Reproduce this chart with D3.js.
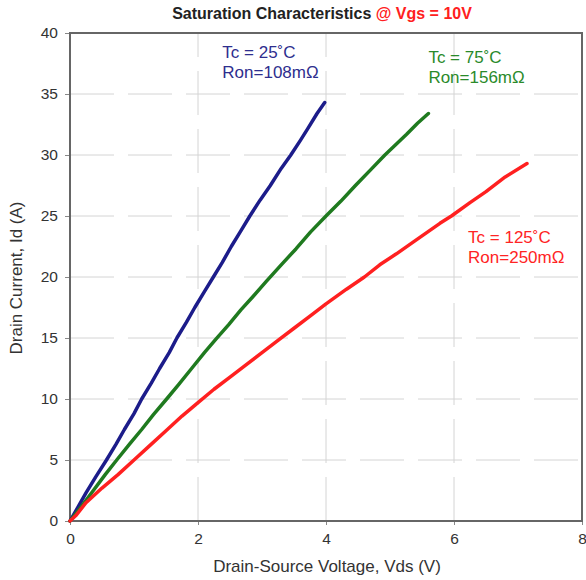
<!DOCTYPE html>
<html>
<head>
<meta charset="utf-8">
<script src="https://cdn.jsdelivr.net/npm/d3@7"></script>
<style>
	body { margin: 0; background: #fff; }
	svg { font-family: "Liberation Sans", Arial, sans-serif; }
</style>
</head>
<body>
<div id="chart"></div>
<script>
'use strict';

// values
const xTicks = [0, 2, 4, 6, 8];
const yTicks = [0, 5, 10, 15, 20, 25, 30, 35, 40];

const vds25 = [0, 0.12, 0.25, 0.4, 0.57, 0.72, 0.85, 1.0, 1.12, 1.27, 1.4, 1.55, 1.67, 1.82, 1.95, 2.1, 2.24, 2.38, 2.52, 2.66, 2.81, 2.97, 3.13, 3.3, 3.45, 3.6, 3.72, 3.86, 3.98];
const id25  = [0, 1.1, 2.3, 3.6, 5.0, 6.3, 7.5, 8.8, 10.0, 11.3, 12.5, 13.8, 15.0, 16.3, 17.5, 18.8, 20.0, 21.2, 22.5, 23.7, 25.0, 26.3, 27.5, 28.9, 30.0, 31.2, 32.2, 33.4, 34.3];

const vds75 = [0, 0.18, 0.35, 0.55, 0.73, 0.93, 1.12, 1.3, 1.51, 1.7, 1.9, 2.1, 2.28, 2.48, 2.67, 2.86, 3.06, 3.3, 3.53, 3.76, 4.0, 4.23, 4.46, 4.7, 4.92, 5.1, 5.26, 5.43, 5.6];
const id75  = [0, 1.2, 2.4, 3.8, 5.0, 6.3, 7.5, 8.7, 10.0, 11.2, 12.5, 13.8, 14.9, 16.1, 17.3, 18.4, 19.6, 21.0, 22.3, 23.7, 25.0, 26.2, 27.5, 28.8, 30.0, 30.9, 31.7, 32.6, 33.4];

const vds125 = [0, 0.1, 0.25, 0.5, 0.75, 1.0, 1.25, 1.5, 1.75, 2.0, 2.25, 2.5, 2.75, 3.0, 3.25, 3.5, 3.75, 4.0, 4.32, 4.6, 4.84, 5.1, 5.4, 5.78, 5.96, 6.25, 6.5, 6.8, 7.14];
const id125  = [0, 0.5, 1.5, 2.7, 3.8, 5.0, 6.2, 7.4, 8.6, 9.7, 10.8, 11.8, 12.8, 13.8, 14.8, 15.8, 16.8, 17.8, 19.0, 20.0, 21.0, 21.9, 23.0, 24.4, 25.0, 26.1, 27.0, 28.2, 29.3];

const seriesColors = ["#1c1c8a", "#1f7a1f", "#ff2020"];
const textColors   = ["#2e2e8e", "#2a8a2a", "#ff2424"];
const labelTc  = ["Tc = 25˚C", "Tc = 75˚C", "Tc = 125˚C"];
const labelRon = ["Ron=108mΩ", "Ron=156mΩ", "Ron=250mΩ"];
// label anchor in data units (Vds, Id)
const labelX = [2.38, 5.6, 6.22];
const labelY = [37.95, 37.55, 22.8];

const width = 586, height = 580;
const margin = { top: 33, right: 4, bottom: 59, left: 70 };

const svg = d3.select("#chart")
	.append("svg")
		.attr("width", width)
		.attr("height", height);

const xScale = d3.scaleLinear()
	.domain([0, 8])
	.range([margin.left, width - margin.right]);

const yScale = d3.scaleLinear()
	.domain([0, 40])
	.range([height - margin.bottom, margin.top]);

// grid
svg.append("g")
	.selectAll("line")
	.data(yTicks.slice(1, -1))
	.join("line")
		.attr("x1", xScale(0))
		.attr("x2", xScale(8))
		.attr("y1", d => yScale(d))
		.attr("y2", d => yScale(d))
		.attr("stroke", "#d4d4d4")
		.attr("stroke-dasharray", "44,14");

svg.append("g")
	.selectAll("line")
	.data(xTicks.slice(1, -1))
	.join("line")
		.attr("x1", d => xScale(d))
		.attr("x2", d => xScale(d))
		.attr("y1", yScale(0))
		.attr("y2", yScale(40))
		.attr("stroke", "#d4d4d4")
		.attr("stroke-dasharray", "44,14");

// axes
const xAxis = svg.append("g")
	.attr("transform", `translate(0,${yScale(0)})`)
	.call(d3.axisBottom(xScale).tickValues(xTicks).tickSize(4).tickPadding(8));

const yAxis = svg.append("g")
	.attr("transform", `translate(${xScale(0)},0)`)
	.call(d3.axisLeft(yScale).tickValues(yTicks).tickSize(5).tickPadding(7));

[xAxis, yAxis].forEach(a => {
	a.select(".domain").remove();
	a.selectAll("line").attr("stroke", "#888");
	a.selectAll("text")
		.attr("font-size", 15.5)
		.attr("font-family", "Liberation Sans, Arial, sans-serif")
		.attr("fill", "#333");
});

// frame
svg.append("rect")
	.attr("x", xScale(0))
	.attr("y", yScale(40))
	.attr("width", xScale(8) - xScale(0))
	.attr("height", yScale(0) - yScale(40))
	.attr("fill", "none")
	.attr("stroke", "#666")
	.attr("stroke-width", 2);

// curves
const seriesData = [
	d3.zip(vds25, id25),
	d3.zip(vds75, id75),
	d3.zip(vds125, id125)
];

const lineGenerator = d3.line()
	.x(d => xScale(d[0]))
	.y(d => yScale(d[1]));

svg.append("g")
	.selectAll("path")
	.data(seriesData)
	.join("path")
		.attr("d", lineGenerator)
		.attr("fill", "none")
		.attr("stroke", (d, i) => seriesColors[i])
		.attr("stroke-width", 3.5)
		.attr("stroke-linejoin", "round")
		.attr("stroke-linecap", "round");

// labels
const labels = svg.append("g")
	.selectAll("text")
	.data(labelTc)
	.join("text")
		.attr("x", (d, i) => xScale(labelX[i]))
		.attr("y", (d, i) => yScale(labelY[i]))
		.attr("font-size", 17)
		.attr("fill", (d, i) => textColors[i]);

labels.append("tspan")
	.text(d => d);
labels.append("tspan")
	.attr("x", (d, i) => xScale(labelX[i]))
	.attr("dy", 20)
	.text((d, i) => labelRon[i]);

// title
const title = svg.append("text")
	.attr("x", 322)
	.attr("y", 19)
	.attr("text-anchor", "middle")
	.attr("font-size", 16)
	.attr("font-weight", "bold");
title.append("tspan").attr("fill", "#222").text("Saturation Characteristics ");
title.append("tspan").attr("fill", "#ff2020").text("@ Vgs = 10V");

// axis titles
svg.append("text")
	.attr("x", 327)
	.attr("y", 572)
	.attr("text-anchor", "middle")
	.attr("font-size", 17)
	.attr("fill", "#333")
	.text("Drain-Source Voltage, Vds (V)");

svg.append("text")
	.attr("transform", "translate(22,278) rotate(-90)")
	.attr("text-anchor", "middle")
	.attr("font-size", 17)
	.attr("fill", "#333")
	.text("Drain Current, Id (A)");
</script>
</body>
</html>
